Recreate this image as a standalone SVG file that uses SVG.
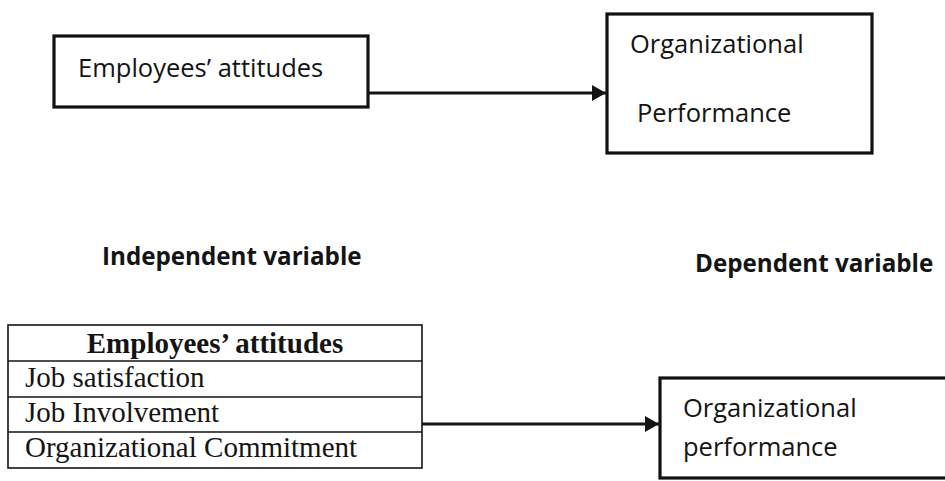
<svg xmlns="http://www.w3.org/2000/svg" width="945" height="481" viewBox="0 0 945 481">
  <style>
    .box { fill: #ffffff; stroke: #111111; stroke-width: 3.2; }
    .cell { fill: none; stroke: #151515; stroke-width: 1.6; }
    .sans { font-family: "Open Sans", "Liberation Sans", sans-serif; font-size: 25.5px; fill: #141414; }
    .label { font-family: "Open Sans", "Liberation Sans", sans-serif; font-size: 24.2px; font-weight: bold; fill: #141414; }
    .serif { font-family: "Liberation Serif", "DejaVu Serif", serif; font-size: 29px; fill: #141414; }
    .serif-b { font-family: "Liberation Serif", "DejaVu Serif", serif; font-size: 29px; font-weight: bold; fill: #141414; }
    .link { fill: none; stroke: #141414; stroke-width: 3; }
  </style>
  <defs>
    <marker id="arrow" markerUnits="userSpaceOnUse" markerWidth="16" markerHeight="18" refX="14" refY="9" orient="auto">
      <path d="M0,1 L14,9 L0,17 Z" fill="#141414"/>
    </marker>
  </defs>

  <rect width="945" height="481" fill="#ffffff"/>

  <!-- connectors -->
  <g id="connectors">
    <line class="link" x1="368" y1="93" x2="606" y2="93" marker-end="url(#arrow)"/>
    <line class="link" x1="422" y1="424" x2="659" y2="424" marker-end="url(#arrow)"/>
  </g>

  <!-- upper model -->
  <g id="attitudes-top">
    <rect class="box" x="54" y="36" width="314" height="71"/>
    <text class="sans" x="78" y="77">Employees’ attitudes</text>
  </g>

  <g id="performance-top">
    <rect class="box" x="607" y="14" width="265" height="139"/>
    <text class="sans" x="630" y="53">Organizational</text>
    <text class="sans" x="637" y="122">Performance</text>
  </g>

  <!-- variable captions -->
  <g id="caption-independent">
    <text class="label" x="102" y="265">Independent variable</text>
  </g>
  <g id="caption-dependent">
    <text class="label" x="695" y="272">Dependent variable</text>
  </g>

  <!-- attitude dimensions table -->
  <g id="attitudes-table">
    <rect class="cell" x="8" y="325" width="414" height="143"/>
    <line class="cell" x1="8" y1="361" x2="422" y2="361"/>
    <line class="cell" x1="8" y1="397" x2="422" y2="397"/>
    <line class="cell" x1="8" y1="432" x2="422" y2="432"/>
    <text class="serif-b" x="215" y="353" text-anchor="middle">Employees’ attitudes</text>
    <text class="serif" x="25" y="387">Job satisfaction</text>
    <text class="serif" x="25" y="422">Job Involvement</text>
    <text class="serif" x="25" y="457">Organizational Commitment</text>
  </g>

  <g id="performance-bottom">
    <rect class="box" x="660" y="378" width="300" height="100"/>
    <text class="sans" x="683" y="417">Organizational</text>
    <text class="sans" x="683" y="456">performance</text>
  </g>
</svg>
